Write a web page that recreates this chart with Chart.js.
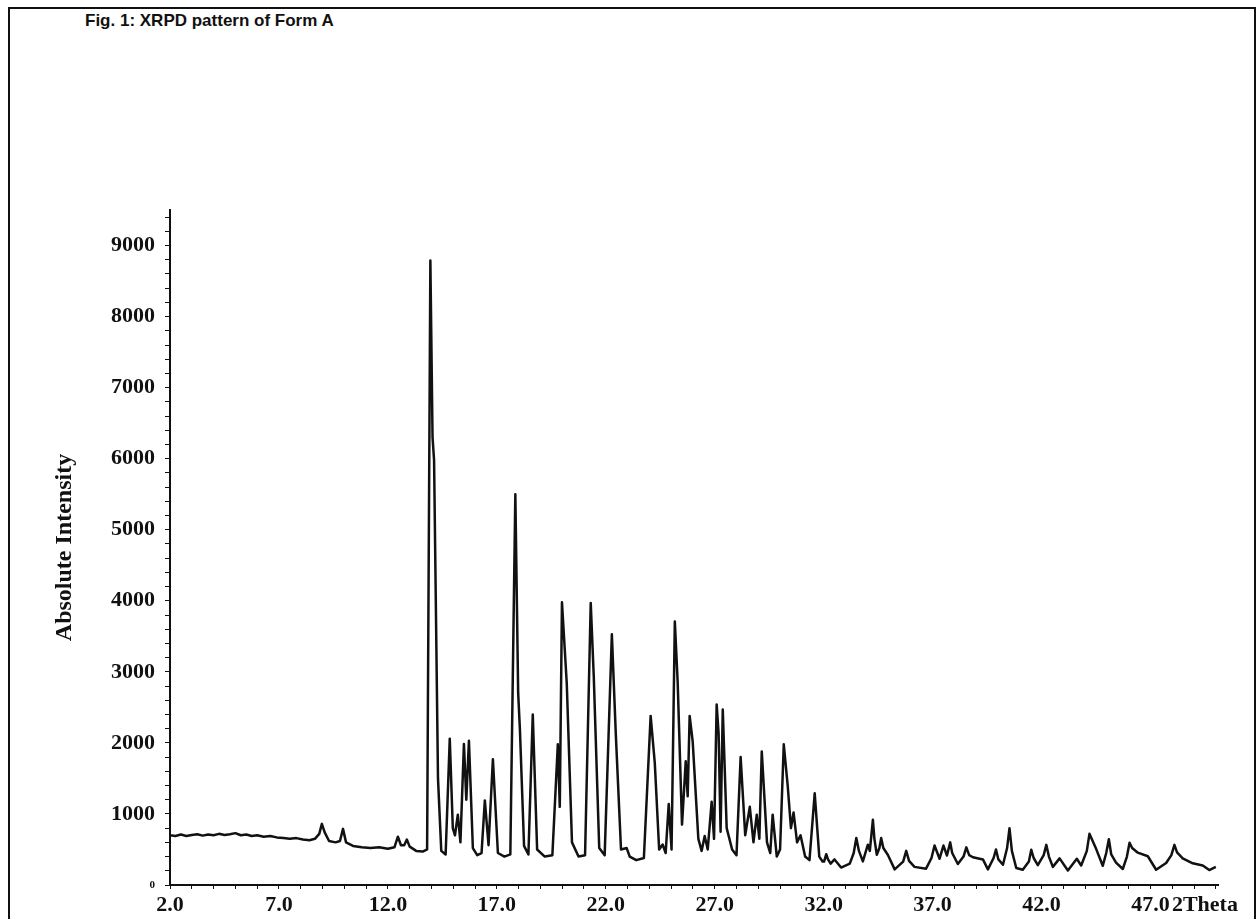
<!DOCTYPE html>
<html>
<head>
<meta charset="utf-8">
<script src="https://cdn.jsdelivr.net/npm/chart.js@4.4.0/dist/chart.umd.min.js"></script>
<style>
  html, body { margin: 0; padding: 0; background: #fff; overflow: hidden; }
  #wrap { position: relative; width: 1260px; height: 919px; }
  #frame { position: absolute; left: 8px; top: 7px; width: 1248px; height: 960px; border: 2px solid #111; box-sizing: border-box; }
  #title { position: absolute; left: 85px; top: 11px; font: bold 17px "Liberation Sans", Arial, sans-serif; color: #111; }
  canvas { position: absolute; left: 0; top: 0; }
</style>
</head>
<body>
<div id="wrap">
  <div id="frame"></div>
  <div id="title">Fig. 1: XRPD pattern of Form A</div>
  <canvas id="chart" width="1260" height="919"></canvas>
</div>
<script>
// ====== DADOS (lidos do difratograma) ======
// cada ponto: [2Theta (graus), intensidade absoluta]

// 2 - 13.8 graus: fundo e picos pequenos
const scanLowAngle = [
  [2.00, 700], [2.25, 690], [2.50, 710], [2.75, 690], [3.00, 705], [3.25, 715], [3.50, 695],
  [3.75, 710], [4.00, 700], [4.25, 720], [4.50, 705], [4.75, 715], [5.00, 730], [5.25, 700],
  [5.50, 710], [5.75, 690], [6.00, 700], [6.30, 680], [6.60, 690], [6.90, 670], [7.20, 660],
  [7.50, 650], [7.80, 660], [8.10, 640], [8.40, 630], [8.65, 650], [8.85, 720], [8.97, 860],
  [9.10, 740], [9.30, 620], [9.60, 600], [9.80, 620], [9.94, 790], [10.08, 600], [10.40, 550],
  [10.80, 530], [11.20, 520], [11.60, 530], [12.00, 510], [12.30, 530], [12.46, 680], [12.60, 560],
  [12.75, 560], [12.87, 640], [13.00, 540], [13.30, 480], [13.60, 470], [13.80, 500]
];

// 13.9 - 32 graus: picos principais
const scanMainPeaks = [
  [13.95, 8790], [14.05, 6300], [14.12, 5980], [14.30, 1500], [14.45, 480], [14.65, 430],
  [14.84, 2060], [14.98, 800], [15.08, 700], [15.21, 990], [15.33, 600], [15.49, 1985],
  [15.60, 1200], [15.72, 2030], [15.90, 520], [16.10, 420], [16.30, 450], [16.45, 1190],
  [16.62, 560], [16.82, 1770], [17.05, 450], [17.35, 400], [17.62, 430], [17.85, 5500],
  [17.98, 2700], [18.06, 2190], [18.25, 550], [18.45, 430], [18.65, 2400], [18.85, 500],
  [19.20, 400], [19.55, 420], [19.80, 1980], [19.89, 1100], [19.99, 3980], [20.21, 2840],
  [20.45, 600], [20.75, 400], [21.05, 420], [21.31, 3970], [21.45, 2930], [21.70, 520],
  [21.95, 420], [22.28, 3530], [22.46, 2130], [22.70, 500], [22.96, 520], [23.10, 400],
  [23.40, 350], [23.75, 380], [24.06, 2380], [24.25, 1720], [24.45, 500], [24.61, 570],
  [24.75, 450], [24.89, 1140], [25.02, 500], [25.17, 3710], [25.30, 2860], [25.50, 850],
  [25.67, 1740], [25.76, 1250], [25.85, 2380], [25.99, 2020], [26.25, 650], [26.40, 480],
  [26.54, 690], [26.68, 500], [26.86, 1170], [26.97, 650], [27.09, 2540], [27.18, 2130],
  [27.27, 750], [27.37, 2470], [27.55, 800], [27.80, 500], [28.00, 420], [28.19, 1800],
  [28.40, 700], [28.61, 1100], [28.78, 600], [28.93, 990], [29.05, 650], [29.16, 1880],
  [29.40, 600], [29.55, 450], [29.66, 990], [29.85, 400], [30.00, 500], [30.17, 1980],
  [30.35, 1400], [30.50, 800], [30.62, 1020], [30.78, 600], [30.94, 700], [31.15, 400],
  [31.35, 350], [31.59, 1290], [31.80, 400], [31.95, 330]
];

// 32 - 50 graus: picos fracos
const scanHighAngle = [
  [32.02, 330], [32.12, 434], [32.20, 360], [32.32, 300], [32.50, 360], [32.80, 245],
  [33.20, 300], [33.38, 450], [33.50, 663], [33.62, 480], [33.80, 333], [34.03, 567],
  [34.12, 480], [34.19, 700], [34.26, 918], [34.33, 650], [34.44, 425], [34.56, 520],
  [34.64, 660], [34.74, 520], [34.95, 423], [35.26, 220], [35.65, 330], [35.79, 480],
  [35.92, 340], [36.17, 255], [36.70, 230], [36.95, 380], [37.09, 555], [37.32, 370],
  [37.50, 555], [37.66, 415], [37.81, 600], [37.90, 450], [38.16, 295], [38.42, 400],
  [38.55, 530], [38.68, 420], [38.85, 390], [39.31, 360], [39.54, 220], [39.80, 380],
  [39.91, 500], [40.02, 360], [40.23, 285], [40.42, 520], [40.53, 800], [40.64, 480],
  [40.84, 240], [41.14, 215], [41.42, 330], [41.53, 495], [41.64, 380], [41.83, 280],
  [42.10, 420], [42.22, 565], [42.34, 400], [42.52, 255], [42.83, 375], [43.21, 205],
  [43.62, 370], [43.82, 275], [44.08, 480], [44.20, 720], [44.51, 505], [44.81, 270],
  [44.97, 450], [45.09, 645], [45.20, 430], [45.42, 315], [45.73, 225], [45.92, 400],
  [46.04, 595], [46.16, 520], [46.42, 455], [46.88, 405], [47.26, 215], [47.72, 310],
  [47.96, 420], [48.10, 565], [48.22, 460], [48.48, 375], [48.94, 305], [49.40, 275],
  [49.70, 210], [50.00, 255]
];

// rotulos dos eixos
const xTickLabels = [2, 7, 12, 17, 22, 27, 32, 37, 42, 47];
const xUnitLabel = "2Theta";
const xUnitPos = 49.5;
const yTickLabels = [0, 1000, 2000, 3000, 4000, 5000, 6000, 7000, 8000, 9000];

// ====== GRAFICO ======
const serif = "'Liberation Serif', 'Times New Roman', serif";
const ink = "#111";

const pontos = [...scanLowAngle, ...scanMainPeaks, ...scanHighAngle].map(p => ({ x: p[0], y: p[1] }));

const ctx = document.getElementById("chart").getContext("2d");

new Chart(ctx, {
  type: "line",
  data: {
    datasets: [{
      label: "Form A",
      data: pontos,
      borderColor: ink,
      borderWidth: 2.5,
      borderJoinStyle: "round",
      pointRadius: 0,
      tension: 0,
      fill: false
    }]
  },
  options: {
    responsive: false,
    animation: false,
    devicePixelRatio: 1,
    layout: { padding: { top: 210, right: 42, bottom: 0, left: 0 } },
    plugins: { legend: { display: false }, tooltip: { enabled: false } },
    scales: {
      x: {
        type: "linear",
        min: 2,
        max: 50.1,
        afterBuildTicks: scale => {
          const t = [];
          for (let v = 2; v <= 50; v += 1) t.push({ value: v });
          t.push({ value: xUnitPos });
          scale.ticks = t;
        },
        afterFit: scale => { scale.height = 34; },
        ticks: {
          autoSkip: false,
          maxRotation: 0,
          padding: 3,
          color: ink,
          font: { family: serif, size: 22, weight: "bold" },
          callback: value => {
            if (value === xUnitPos) return xUnitLabel;
            return xTickLabels.includes(value) ? value.toFixed(1) : "";
          }
        },
        grid: {
          drawOnChartArea: false,
          drawTicks: true,
          tickLength: 4,
          tickColor: c => (c.tick && c.tick.value === xUnitPos) ? "rgba(0,0,0,0)" : ink
        },
        border: { color: ink, width: 2 }
      },
      y: {
        min: 0,
        max: 9500,
        afterBuildTicks: scale => {
          const t = [];
          for (let v = 0; v <= 9400; v += 200) t.push({ value: v });
          scale.ticks = t;
        },
        afterFit: scale => { scale.width = 170; },
        ticks: {
          autoSkip: false,
          padding: 10,
          color: ink,
          font: c => ({ family: serif, size: (c.tick && c.tick.value === 0) ? 11 : 22, weight: "bold" }),
          callback: value => yTickLabels.includes(value) ? String(value) : ""
        },
        grid: {
          drawOnChartArea: false,
          drawTicks: true,
          tickLength: 5,
          tickColor: ink
        },
        border: { color: ink, width: 2 },
        title: {
          display: true,
          text: "Absolute Intensity",
          color: ink,
          font: { family: serif, size: 24, weight: "bold" },
          padding: { top: 50, bottom: 0 }
        }
      }
    }
  }
});
</script>
</body>
</html>
